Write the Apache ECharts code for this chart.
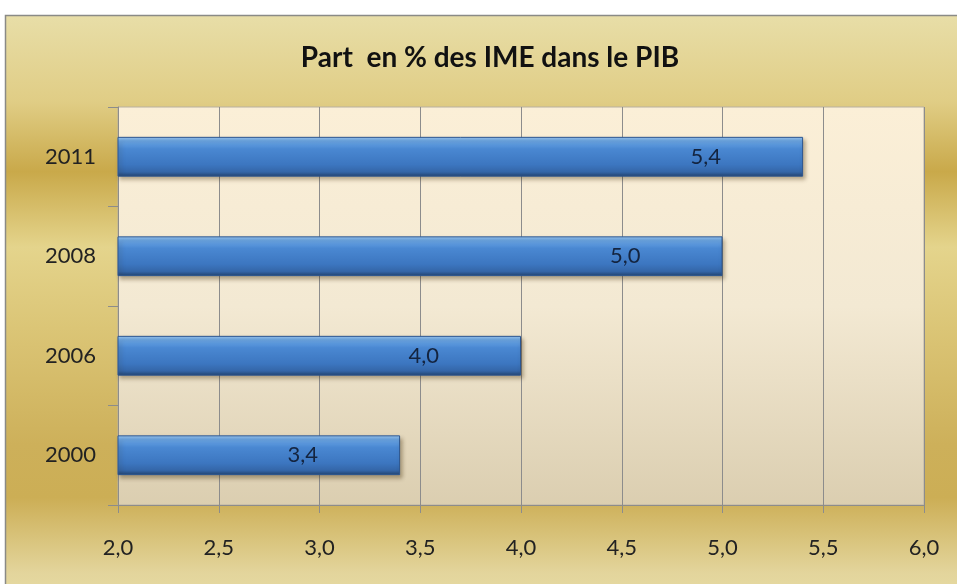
<!DOCTYPE html>
<html>
<head>
<meta charset="utf-8">
<script src="https://cdn.jsdelivr.net/npm/echarts@6/dist/echarts.min.js"></script>
<style>html,body{margin:0;padding:0;background:#fff}#c{width:957px;height:584px}</style>
</head>
<body>
<div id="c"></div>
<script>
const titleText = 'Part  en % des IME dans le PIB';
const categories = ['2000', '2006', '2008', '2011'];
const values = [3.4, 4.0, 5.0, 5.4];
const xMin = 2.0, xMax = 6.0, xStep = 0.5;

const FONT = 'Lato, "Open Sans", sans-serif';
const fmt = v => Number(v).toFixed(1).replace('.', ',');

const chart = echarts.init(document.getElementById('c'), null, {renderer: 'canvas'});
chart.setOption({
  animation: false,
  graphic: [
    {
      type: 'rect', z: -10, silent: true,
      shape: {x: 5.5, y: 15.5, width: 960, height: 580},
      style: {
        stroke: '#8a8a86', lineWidth: 1.5,
        fill: new echarts.graphic.LinearGradient(0, 0, 0, 1, [
          {offset: 0, color: '#e8dea8'},
          {offset: 0.15, color: '#e0cd85'},
          {offset: 0.27, color: '#c9a94a'},
          {offset: 0.40, color: '#e4d48c'},
          {offset: 0.54, color: '#dbc576'},
          {offset: 0.74, color: '#cdb05a'},
          {offset: 0.83, color: '#ccae55'},
          {offset: 0.96, color: '#e3d59c'},
          {offset: 1, color: '#e6daa2'}
        ])
      }
    },
    {
      type: 'text', z: 10, x: 490, y: 58,
      style: {
        text: titleText, fill: '#111', font: 'bold 28px ' + FONT,
        textAlign: 'center', textVerticalAlign: 'middle'
      }
    }
  ],
  grid: {
    left: 118, right: 33, top: 107, bottom: 79,
    show: true,
    borderColor: '#b8b0a0', borderWidth: 1,
    backgroundColor: new echarts.graphic.LinearGradient(0, 0, 0, 1, [
      {offset: 0, color: '#fbefd7'},
      {offset: 0.5, color: '#f3e9d3'},
      {offset: 1, color: '#dbceb0'}
    ])
  },
  xAxis: {
    type: 'value', min: xMin, max: xMax, interval: xStep,
    axisLine: {show: true, lineStyle: {color: '#8c8c8c', width: 1}},
    axisTick: {show: true, length: 8, lineStyle: {color: '#8c8c8c'}},
    splitLine: {show: true, lineStyle: {color: '#8c8c8c', width: 1}},
    axisLabel: {formatter: fmt, color: '#222', fontFamily: FONT, fontSize: 22, margin: 32}
  },
  yAxis: {
    type: 'category', data: categories,
    axisLine: {show: true, lineStyle: {color: '#8c8c8c', width: 1}},
    axisTick: {show: true, length: 10, lineStyle: {color: '#8c8c8c'}},
    axisLabel: {color: '#222', fontFamily: FONT, fontSize: 22, margin: 22}
  },
  series: [{
    type: 'bar', data: values, barWidth: '40%',
    itemStyle: {
      color: new echarts.graphic.LinearGradient(0, 0, 0, 1, [
        {offset: 0, color: '#9ccaf4'},
        {offset: 0.1, color: '#6aa6e6'},
        {offset: 0.3, color: '#4a88d2'},
        {offset: 0.7, color: '#3c76c0'},
        {offset: 0.88, color: '#3466a8'},
        {offset: 1, color: '#22436f'}
      ]),
      borderColor: '#2c5690', borderWidth: 1,
      shadowColor: 'rgba(60,40,0,0.35)', shadowBlur: 4, shadowOffsetX: 2, shadowOffsetY: 3
    },
    label: {
      show: true, position: 'insideRight', distance: 82,
      formatter: p => fmt(p.value),
      color: '#14243f', fontFamily: FONT, fontSize: 22
    }
  }]
});
</script>
</body>
</html>
